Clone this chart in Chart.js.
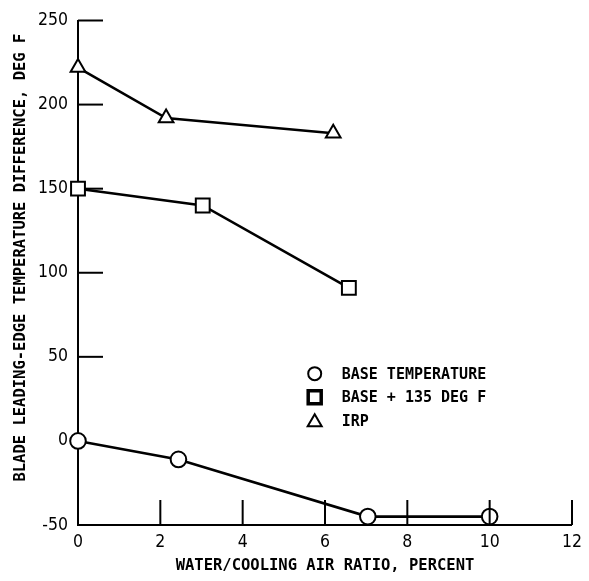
<!DOCTYPE html>
<html>
<head>
<meta charset="utf-8">
<script src="https://cdn.jsdelivr.net/npm/chart.js@4/dist/chart.umd.min.js"></script>
<style>
html,body{margin:0;padding:0;background:#fff;}
#wrap{position:relative;width:589px;height:581px;}
</style>
</head>
<body>
<div id="wrap"><canvas id="c" width="589" height="581"></canvas></div>
<script>
const xTicks = [0, 2, 4, 6, 8, 10, 12];
const yTicks = [-50, 0, 50, 100, 150, 200, 250];

const baseX = [0, 2.44, 7.04, 10];
const baseY = [0, -11, -45, -45];

const plusX = [0, 3.03, 6.58];
const plusY = [150, 140, 91];

const irpX = [0, 2.14, 6.2];
const irpY = [222, 192, 183];

const labels = ['BASE TEMPERATURE', 'BASE + 135 DEG F', 'IRP'];
const styles = ['circle', 'rect', 'triangle'];
const xTitle = 'WATER/COOLING AIR RATIO, PERCENT';
const yTitle = 'BLADE LEADING-EDGE TEMPERATURE DIFFERENCE, DEG F';

const FONT = '"DejaVu Sans Mono", "Liberation Mono", monospace';
const TICKFONT = '"DejaVu Sans Condensed", "DejaVu Sans", sans-serif';

function pts(xs, ys) { return xs.map((x, i) => ({x: x, y: ys[i]})); }

function ds(label, data, style, r) {
  return {
    label: label, data: data, pointStyle: style,
    borderColor: '#000', backgroundColor: '#fff',
    borderWidth: 2.6, pointBorderWidth: 2, pointRadius: r, pointHoverRadius: r,
    pointBackgroundColor: '#fff', pointBorderColor: '#000',
    showLine: true, tension: 0, clip: false
  };
}

const tickPlugin = {
  id: 'inwardTicks',
  beforeDatasetsDraw(chart) {
    const ctx = chart.ctx, xs = chart.scales.x, ys = chart.scales.y;
    ctx.save();
    ctx.strokeStyle = '#000'; ctx.lineWidth = 2;
    yTicks.forEach(v => {
      if (v <= 0) return;
      const py = ys.getPixelForValue(v);
      ctx.beginPath(); ctx.moveTo(xs.left, py); ctx.lineTo(xs.left + 25, py); ctx.stroke();
    });
    // y axis title
    ctx.save();
    ctx.fillStyle = '#000';
    ctx.font = 'bold 15.5px ' + FONT;
    ctx.textAlign = 'center';
    ctx.textBaseline = 'middle';
    ctx.translate(21, ys.getPixelForValue(109));
    ctx.rotate(-Math.PI / 2);
    ctx.fillText(yTitle, 0, 0);
    ctx.restore();
    ctx.restore();
  },
  afterDatasetsDraw(chart) {
    const ctx = chart.ctx, xs = chart.scales.x, ys = chart.scales.y;
    ctx.save();
    ctx.strokeStyle = '#000'; ctx.lineWidth = 2;
    xTicks.forEach(v => {
      if (v === 0) return;
      const px = xs.getPixelForValue(v);
      ctx.beginPath(); ctx.moveTo(px, ys.bottom); ctx.lineTo(px, ys.bottom - 25); ctx.stroke();
    });
    // legend
    const lx = xs.getPixelForValue(5.75), ly0 = ys.getPixelForValue(40);
    const step = 23.5;
    ctx.font = 'bold 15px ' + FONT;
    ctx.textBaseline = 'middle';
    labels.forEach((t, i) => {
      const y = ly0 + i * step;
      ctx.lineWidth = i === 1 ? 3.5 : 2;
      ctx.strokeStyle = '#000';
      ctx.fillStyle = '#fff';
      ctx.beginPath();
      if (styles[i] === 'circle') { ctx.arc(lx, y, 6.5, 0, Math.PI * 2); }
      else if (styles[i] === 'rect') { ctx.rect(lx - 6.5, y - 6.5, 13, 13); }
      else { ctx.moveTo(lx, y - 6.5); ctx.lineTo(lx + 7, y + 5.5); ctx.lineTo(lx - 7, y + 5.5); ctx.closePath(); }
      ctx.fill(); ctx.stroke();
      ctx.fillStyle = '#000';
      ctx.fillText(t, lx + 27, y + 1);
    });
    ctx.restore();
  }
};

new Chart(document.getElementById('c'), {
  type: 'scatter',
  data: {
    datasets: [
      ds(labels[0], pts(baseX, baseY), 'circle', 7.8),
      ds(labels[1], pts(plusX, plusY), 'rect', 9.8),
      ds(labels[2], pts(irpX, irpY), 'triangle', 8.5)
    ]
  },
  plugins: [tickPlugin],
  options: {
    responsive: false,
    animation: false,
    devicePixelRatio: 1,
    layout: { padding: { left: 0, right: 13, top: 16, bottom: 0 } },
    plugins: { legend: { display: false }, tooltip: { enabled: false } },
    scales: {
      x: {
        type: 'linear', min: 0, max: 12,
        afterBuildTicks(s) { s.ticks = xTicks.map(v => ({value: v})); },
        afterFit(s) { s.height = 56; },
        grid: { display: true, drawOnChartArea: false, drawTicks: false },
        border: { display: true, color: '#000', width: 2 },
        ticks: { color: '#000', font: { family: TICKFONT, size: 17.5 }, padding: 7, maxRotation: 0 },
        title: { display: true, text: xTitle, color: '#000',
                 font: { family: FONT, size: 15.5, weight: 'bold' }, padding: { top: 0, bottom: 6 } }
      },
      y: {
        type: 'linear', min: -50, max: 250,
        afterBuildTicks(s) { s.ticks = yTicks.map(v => ({value: v})); },
        afterFit(s) { s.width = 78; },
        grid: { display: true, drawOnChartArea: false, drawTicks: false },
        border: { display: true, color: '#000', width: 2 },
        ticks: { color: '#000', font: { family: TICKFONT, size: 17.5 }, padding: 10 },
        title: { display: false }
      }
    }
  }
});
</script>
</body>
</html>
